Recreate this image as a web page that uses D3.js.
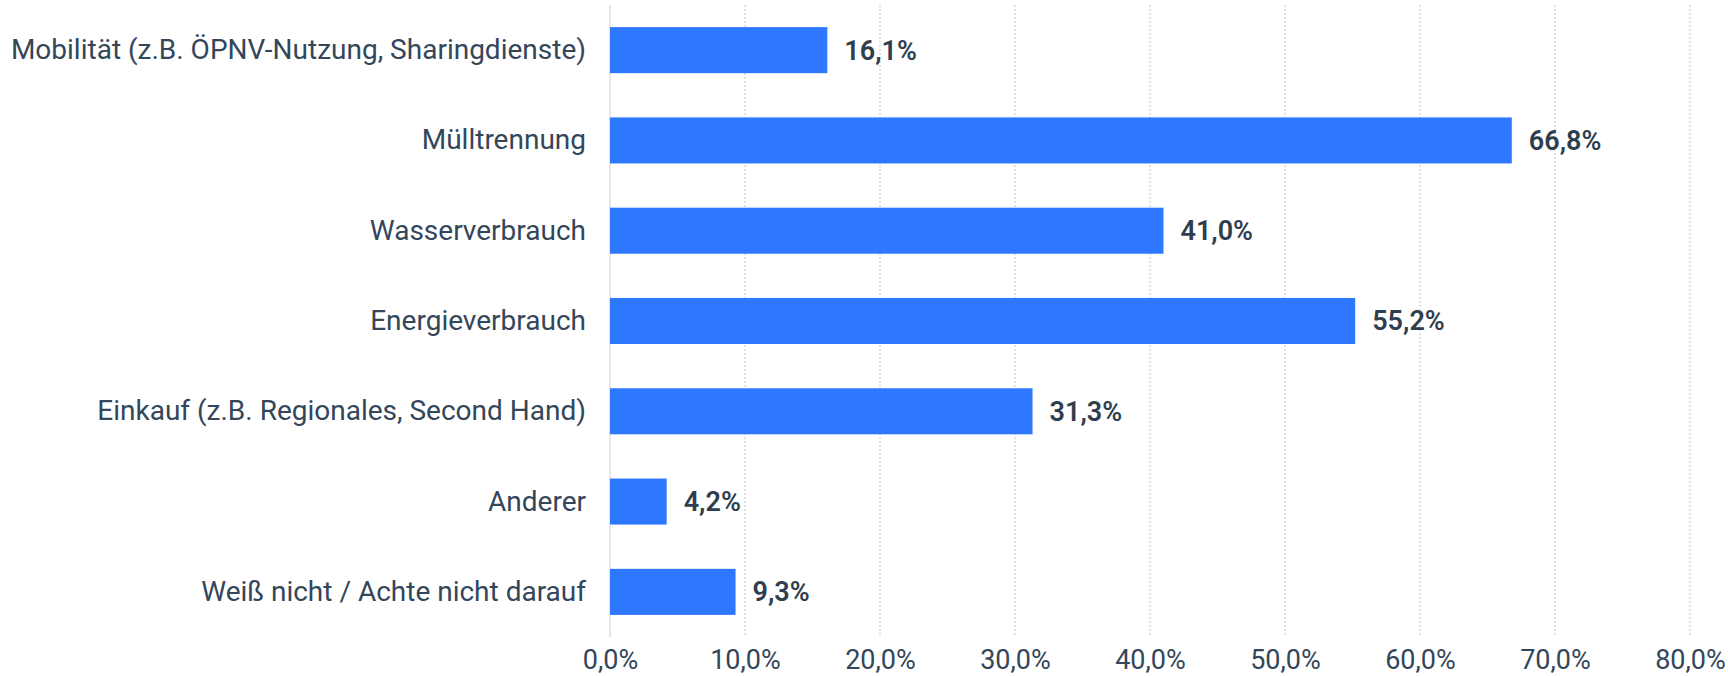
<!DOCTYPE html>
<html>
<head>
<meta charset="utf-8">
<script src="https://cdn.jsdelivr.net/npm/d3@7"></script>
<style>
  html, body { margin: 0; padding: 0; background: #fff; }
  svg { display: block; font-family: Roboto, "Noto Sans", sans-serif; }
</style>
</head>
<body>
<svg id="chart" width="1728" height="676"></svg>
<script>
const categories = [
  "Mobilität (z.B. ÖPNV-Nutzung, Sharingdienste)",
  "Mülltrennung",
  "Wasserverbrauch",
  "Energieverbrauch",
  "Einkauf (z.B. Regionales, Second Hand)",
  "Anderer",
  "Weiß nicht / Achte nicht darauf"
];
const values = [16.1, 66.8, 41.0, 55.2, 31.3, 4.2, 9.3];
const tickValues = [0, 10, 20, 30, 40, 50, 60, 70, 80];

const svg = d3.select("#chart");
const plotLeft = 610, plotRight = 1690, plotTop = 5, plotBottom = 637;

const x = d3.scaleLinear().domain([0, 80]).range([plotLeft, plotRight]);
const y = d3.scaleBand().domain(categories).range([plotTop, plotBottom])
  .paddingInner(0.49).paddingOuter(0.245);

const fmt = v => d3.format(".1f")(v).replace(".", ",") + "%";

// dotted grid
svg.append("g").selectAll("line")
  .data(tickValues.filter(d => d > 0))
  .join("line")
  .attr("x1", d => x(d)).attr("x2", d => x(d))
  .attr("y1", plotTop).attr("y2", plotBottom)
  .attr("stroke", "#d9d9d9")
  .attr("stroke-width", 1.5)
  .attr("stroke-dasharray", "2,2");

// zero line
svg.append("line")
  .attr("x1", x(0)).attr("x2", x(0))
  .attr("y1", plotTop).attr("y2", plotBottom)
  .attr("stroke", "#e6e6e6")
  .attr("stroke-width", 2);

// bars
svg.append("g").selectAll("rect")
  .data(values)
  .join("rect")
  .attr("x", x(0))
  .attr("y", (d, i) => y(categories[i]))
  .attr("width", d => x(d) - x(0))
  .attr("height", y.bandwidth())
  .attr("fill", "#2e78ff");

// value labels
svg.append("g").selectAll("text")
  .data(values)
  .join("text")
  .attr("x", d => x(d) + 17)
  .attr("y", (d, i) => y(categories[i]) + y.bandwidth() / 2)
  .attr("dy", "0.35em")
  .attr("font-size", 27)
  .attr("font-weight", 600)
  .attr("fill", "#2f3e4e")
  .text(fmt);

// category labels
const yAxis = svg.append("g")
  .attr("transform", `translate(${x(0)},0)`)
  .call(d3.axisLeft(y).tickSize(0).tickPadding(24));
yAxis.select(".domain").remove();
yAxis.selectAll("text")
  .attr("font-family", "Roboto")
  .attr("font-size", 28)
  .attr("fill", "#34465a");

// x axis
const xAxis = svg.append("g")
  .attr("transform", `translate(0,${plotBottom})`)
  .call(d3.axisBottom(x).tickValues(tickValues).tickSize(0).tickPadding(13).tickFormat(fmt));
xAxis.select(".domain").remove();
xAxis.selectAll("text")
  .attr("font-family", "Roboto")
  .attr("font-size", 27)
  .attr("fill", "#34465a");
</script>
</body>
</html>
